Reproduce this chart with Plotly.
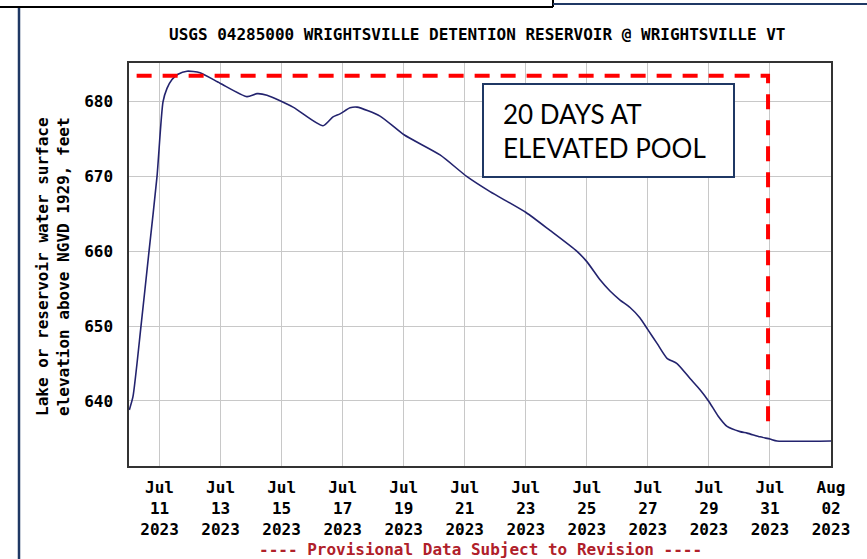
import plotly.graph_objects as go

# ---------------- data ----------------
times = [
    "2023-07-10 00:15", "2023-07-10 03:09", "2023-07-10 09:26", "2023-07-10 15:44",
    "2023-07-10 22:01", "2023-07-11 02:44", "2023-07-11 05:53", "2023-07-11 09:49",
    "2023-07-11 14:32", "2023-07-11 21:36", "2023-07-12 07:49", "2023-07-12 23:34",
    "2023-07-13 20:47", "2023-07-14 04:39", "2023-07-14 12:31", "2023-07-15 08:58",
    "2023-07-16 08:33", "2023-07-16 16:25", "2023-07-16 21:55", "2023-07-17 05:47",
    "2023-07-17 11:18", "2023-07-18 05:23", "2023-07-19 00:15", "2023-07-20 04:34",
    "2023-07-21 01:48", "2023-07-21 19:53", "2023-07-23 00:11", "2023-07-23 19:03",
    "2023-07-24 16:17", "2023-07-25 00:10", "2023-07-25 10:23", "2023-07-25 18:14",
    "2023-07-26 02:07", "2023-07-26 09:59", "2023-07-26 17:50", "2023-07-27 00:07",
    "2023-07-27 07:12", "2023-07-27 15:04", "2023-07-27 22:55", "2023-07-28 09:09",
    "2023-07-28 17:01", "2023-07-29 00:06", "2023-07-29 07:11", "2023-07-29 14:15",
    "2023-07-30 00:29", "2023-07-30 05:59", "2023-07-30 16:12", "2023-07-31 00:04",
    "2023-07-31 05:34", "2023-08-02 00:00",
]
elevation_ft = [
    638.8, 640.6, 650.0, 660.0,
    670.0, 680.0, 681.8, 683.0,
    683.7, 684.1, 683.9, 682.5,
    680.7, 681.1, 680.9, 679.3,
    676.8, 678.0, 678.4, 679.2,
    679.3, 678.1, 675.6, 672.9,
    670.0, 668.0, 665.2, 662.8,
    660.0, 658.6, 656.2, 654.7,
    653.5, 652.5, 651.1, 649.5,
    647.7, 645.7, 645.0, 643.0,
    641.5, 639.9, 638.0, 636.6,
    635.9, 635.7, 635.2, 634.9,
    634.65, 634.65,
]

x_tick_dates = ["2023-07-11", "2023-07-13", "2023-07-15", "2023-07-17", "2023-07-19",
                "2023-07-21", "2023-07-23", "2023-07-25", "2023-07-27", "2023-07-29",
                "2023-07-31", "2023-08-02"]
x_tick_labels = ["Jul<br>11<br>2023", "Jul<br>13<br>2023", "Jul<br>15<br>2023",
                 "Jul<br>17<br>2023", "Jul<br>19<br>2023", "Jul<br>21<br>2023",
                 "Jul<br>23<br>2023", "Jul<br>25<br>2023", "Jul<br>27<br>2023",
                 "Jul<br>29<br>2023", "Jul<br>31<br>2023", "Aug<br>02<br>2023"]
y_ticks = [640, 650, 660, 670, 680]

x_range = ["2023-07-10 00:00", "2023-08-02 00:00"]
y_range = [631.3, 685.2]

# elevated-pool marker (red dashed box)
pool_start = "2023-07-10 06:00"
pool_end = "2023-07-30 22:30"
pool_top = 683.5
pool_bottom = 637.2

title_text = "USGS 04285000 WRIGHTSVILLE DETENTION RESERVOIR @ WRIGHTSVILLE VT"
y_title = "Lake or reservoir water surface<br>elevation above NGVD 1929, feet"
footer_text = "---- Provisional Data Subject to Revision ----"
callout_text = "20 DAYS AT<br>ELEVATED POOL"

# ---------------- layout geometry ----------------
W, H = 867, 559
L, R, T, B = 129, 36, 63, 93
PW, PH = W - L - R, H - T - B


def px(xp):
    return (xp - L) / PW


def py(yp):
    return (H - B - yp) / PH


MONO = "DejaVu Sans Mono"
NAVY = "#1f3864"
FS = 16

fig = go.Figure()
fig.add_trace(go.Scatter(
    x=times, y=elevation_ft, mode="lines", line_shape="spline",
    line=dict(color="#23236e", width=1.6, smoothing=0.6), hoverinfo="skip", showlegend=False,
))

# red dashed line (top and right side)
fig.add_trace(go.Scatter(
    x=[pool_start, pool_end, pool_end], y=[pool_top, pool_top, pool_bottom],
    mode="lines", line=dict(color="#ff0000", width=4, dash="15px,11px"),
    hoverinfo="skip", showlegend=False,
))

fig.update_layout(
    width=W, height=H,
    margin=dict(l=L, r=R, t=T, b=B, autoexpand=False),
    paper_bgcolor="white", plot_bgcolor="white",
    font=dict(family=MONO, size=FS, color="black"),
    showlegend=False,
)

fig.update_xaxes(
    type="date", range=x_range, tickmode="array",
    tickvals=x_tick_dates, ticktext=x_tick_labels,
    showgrid=True, gridcolor="#c8c8c8", gridwidth=1,
    showline=True, linecolor="#333333", linewidth=1.5, mirror=True,
    ticks="", ticklabelstandoff=6,
    tickfont=dict(family=MONO, size=FS, color="black", weight="bold"),
    zeroline=False,
)
fig.update_yaxes(
    range=y_range, tickmode="array", tickvals=y_ticks,
    showgrid=True, gridcolor="#c8c8c8", gridwidth=1,
    showline=True, linecolor="#333333", linewidth=1.5, mirror=True,
    ticks="", ticklabelstandoff=11,
    tickfont=dict(family=MONO, size=FS, color="black", weight="bold"),
    zeroline=False,
)

# callout box
fig.add_shape(type="rect", xref="paper", yref="paper",
              x0=px(483), x1=px(734), y0=py(177), y1=py(84),
              line=dict(color=NAVY, width=2), fillcolor="white", layer="above")
fig.add_annotation(xref="paper", yref="paper", x=px(501), y=py(130.5),
                   xanchor="left", yanchor="middle", align="left",
                   text=callout_text, showarrow=False,
                   font=dict(family="Lato", size=26, color="black"))

# title / labels
fig.add_annotation(xref="paper", yref="paper", x=px(477), y=py(34),
                   xanchor="center", yanchor="middle", text=title_text, showarrow=False,
                   font=dict(family=MONO, size=FS, color="black", weight="bold"))
fig.add_annotation(xref="paper", yref="paper", x=px(53), y=py(267),
                   xanchor="center", yanchor="middle", text=y_title, showarrow=False,
                   textangle=-90,
                   font=dict(family=MONO, size=FS, color="black", weight="bold"))
fig.add_annotation(xref="paper", yref="paper", x=px(480), y=py(549),
                   xanchor="center", yanchor="middle", text=footer_text, showarrow=False,
                   font=dict(family=MONO, size=FS, color="#b0202a", weight="bold"))

# slide frame lines
frame = [
    (0, 7, 553, 7, "black", 2),
    (553, 0, 553, 7, "black", 2),
    (553, 4, 867, 4, NAVY, 2),
    (19, 8, 19, 559, NAVY, 2.5),
]
for x0, y0, x1, y1, c, w in frame:
    fig.add_shape(type="line", xref="paper", yref="paper",
                  x0=px(x0), y0=py(y0), x1=px(x1), y1=py(y1),
                  line=dict(color=c, width=w), layer="above")

fig.write_html("out.html", config={"displayModeBar": False},
               post_script="document.body.style.margin='0';document.body.style.overflow='hidden';")
